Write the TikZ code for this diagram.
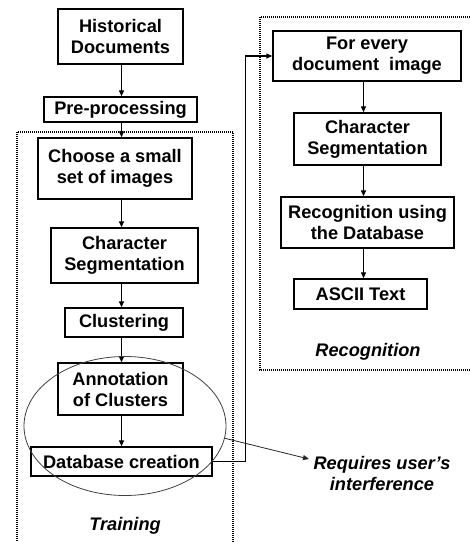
\documentclass[tikz,border=0pt]{standalone}
\usepackage{fontspec}
\setmainfont{Liberation Sans}
\usetikzlibrary{arrows.meta,shapes.geometric}
\begin{document}
\begin{tikzpicture}[x=1pt,y=-1pt,
  box/.style={draw,line width=1.4pt,fill=white,align=center,inner sep=0pt,
    font=\fontsize{18.2}{21}\selectfont\bfseries},
  conn/.style={line width=1.3pt,-{Triangle[length=6pt,width=5pt]}},
  frame/.style={line width=1.1pt,dash pattern=on 1pt off 1pt},
  lbl/.style={font=\fontsize{18.2}{21}\selectfont\bfseries\itshape,align=center,inner sep=0pt}]
\useasboundingbox (0,0) rectangle (471,542);
\clip (0,0) rectangle (471,542);
% frames
\draw[frame] (17,132) rectangle (233,560);
\draw[frame] (260,17) rectangle (490,370);
% left column
\node[box,minimum width=125pt,minimum height=55pt] (H) at (120.5,36.5) {Historical\\Documents};
\node[box,minimum width=153pt,minimum height=25pt] (P) at (120.5,109.5) {Pre-processing};
\node[box,minimum width=154pt,minimum height=61pt] (C) at (115,168.5) {Choose a small\\set of images};
\node[box,minimum width=147pt,minimum height=55pt] (CS) at (124.5,255.5) {Character\\Segmentation};
\node[box,minimum width=118pt,minimum height=29pt] (Cl) at (124,322.5) {Clustering};
\node[box,minimum width=125pt,minimum height=52pt] (A) at (120.5,389) {Annotation\\of Clusters};
\node[box,minimum width=181pt,minimum height=29pt] (D) at (121.5,461.5) {Database creation};
\coordinate (ax) at (121.5,0);
\draw[conn] (H.south -| ax) -- (P.north -| ax);
\draw[conn] (P.south -| ax) -- (C.north -| ax);
\draw[conn] (C.south -| ax) -- (CS.north -| ax);
\draw[conn] (CS.south -| ax) -- (Cl.north -| ax);
\draw[conn] (Cl.south -| ax) -- (A.north -| ax);
\draw[conn] (A.south -| ax) -- (D.north -| ax);
% right column
\node[box,minimum width=188pt,minimum height=50pt] (F) at (367,56) {For every\\document~ image};
\node[box,minimum width=147pt,minimum height=52pt] (RS) at (367.5,139) {Character\\Segmentation};
\node[box,minimum width=173pt,minimum height=51pt] (R) at (367.5,222.5) {Recognition using\\the Database};
\node[box,minimum width=133pt,minimum height=30pt] (AS) at (360.5,294) {ASCII Text};
\coordinate (bx) at (363.5,0);
\draw[conn] (F.south -| bx) -- (RS.north -| bx);
\draw[conn] (RS.south -| bx) -- (R.north -| bx);
\draw[conn] (R.south -| bx) -- (AS.north -| bx);
% link
\coordinate (turn) at (245.5,461.5);
\draw[conn] (D.east) -- (turn) |- (F.west);
% ellipse
\node[ellipse,draw=black!75,line width=0.8pt,minimum width=202pt,minimum height=139pt,inner sep=0pt] (E) at (125,426) {};
% labels
\node[lbl] (T) at (125,526) {Training};
\node[lbl] (RL) at (368,352) {Recognition};
\node[lbl] (U) at (382,473.5) {Requires user's\\interference};
\coordinate (tipU) at (309,459);
\draw[line width=0.8pt,black!85,-{Triangle[length=6pt,width=5pt]}] (E.-7) -- (tipU);
\end{tikzpicture}
\end{document}
